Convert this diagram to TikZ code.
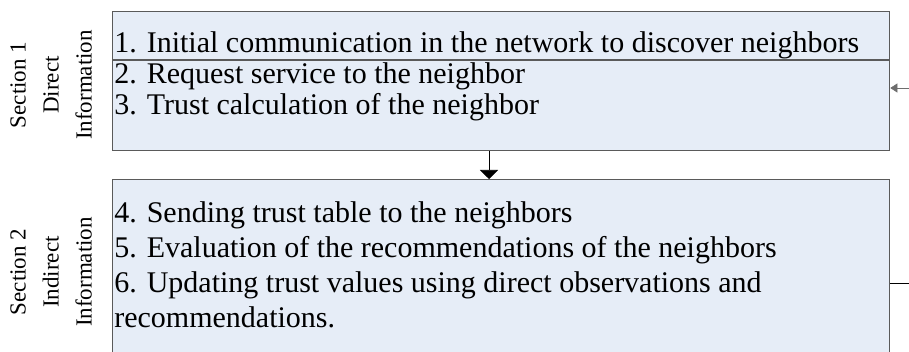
\documentclass[tikz,border=0pt]{standalone}
\usepackage{fontspec}
\setmainfont{Liberation Serif}
\usepackage{xcolor}
\usetikzlibrary{positioning,arrows.meta}
\definecolor{boxblue}{HTML}{E6EDF7}
\definecolor{boxgray}{HTML}{5A5A5A}
\definecolor{linkgray}{HTML}{6E6E6E}

\begin{document}
\begin{tikzpicture}[x=1pt, y=-1pt, semithick,
  box/.style={draw=boxgray, fill=boxblue, line width=1.3pt, inner sep=0pt},
  item/.style={anchor=base west, inner sep=0pt, font=\fontsize{30}{32}\selectfont},
  side/.style={rotate=90, align=center, inner sep=0pt, font=\fontsize{23}{33}\selectfont}]

  \useasboundingbox (0,0) rectangle (909,352);
  \clip (0,0) rectangle (909,352);

  % the two sections
  \node[box, anchor=north west, minimum width=777pt, minimum height=139pt] (sec1) at (112,11) {};
  \node[box, anchor=north west, minimum width=777pt, minimum height=176pt] (sec2) at (112,179) {};

  \coordinate (cut) at (0,60);
  \draw[boxgray, line width=1.3pt] (sec1.west |- cut) -- (sec1.east |- cut);

  % labels on the left
  \node[side] (lab1) at (51,85) {Section 1\\ Direct\\ Information};
  \node[side] (lab2) at (51,272) {Section 2\\ Indirect\\ Information};

  % steps
  \node[item] (s1) at (114,53) {1. Initial communication in the network to discover neighbors};
  \node[item] (s2) at (114,84) {2. Request service to the neighbor};
  \node[item] (s3) at (114,115) {3. Trust calculation of the neighbor};
  \node[item] (s4) at (114,223) {4. Sending trust table to the neighbors};
  \node[item] (s5) at (114,258) {5. Evaluation of the recommendations of the neighbors};
  \node[item] (s6) at (114,292) {6. Updating trust values using direct observations and};
  \node[item] (s7) at (114,327) {recommendations.};

  % links
  \coordinate (mid) at (489,0);
  \draw[-{Triangle[length=9pt,width=18pt]}] (sec1.south -| mid) -- (sec2.north -| mid);

  \coordinate (back) at (909,88);
  \draw[linkgray, -{Triangle[length=7pt,width=9pt]}] (back) -- (back -| sec1.east);

  \coordinate (out) at (909,283);
  \draw (out -| sec2.east) -- (out);

\end{tikzpicture}
\end{document}
